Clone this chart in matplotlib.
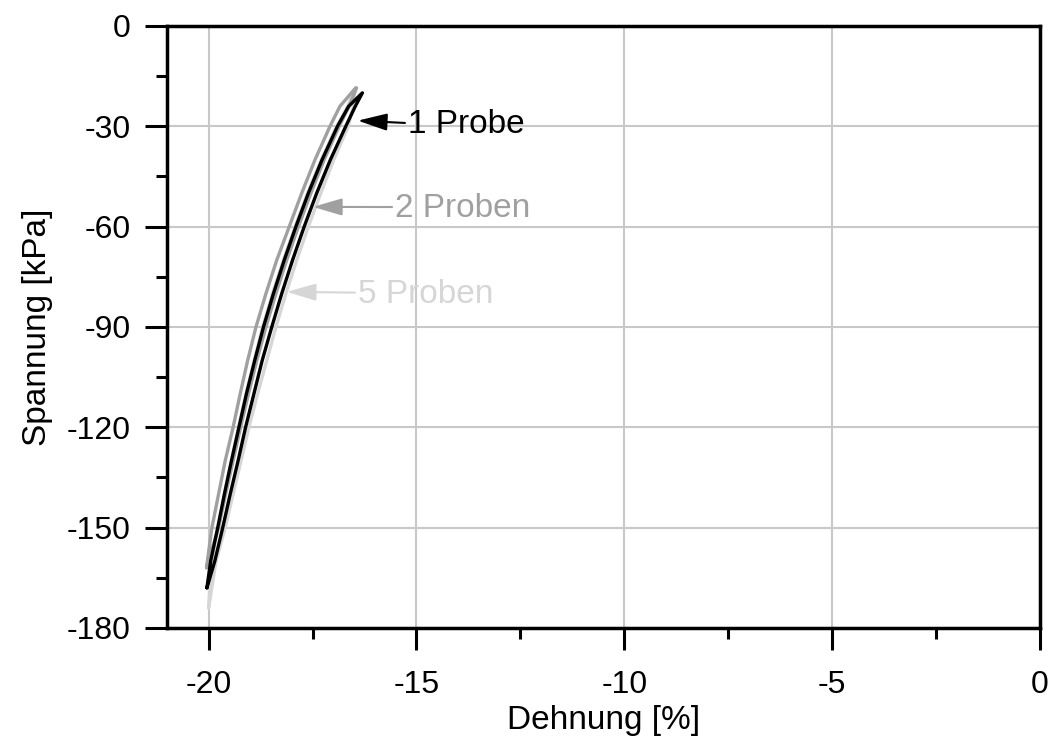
import numpy as np
import matplotlib
matplotlib.use('Agg')
import matplotlib.pyplot as plt
from matplotlib.ticker import MultipleLocator

# stress levels [kPa] and strain [%] of the two branches of each loop
stress_1 = [-168, -160, -150, -140, -130, -120, -110, -100, -90, -80, -70,
            -60, -50, -40, -30, -24, -20]
strain_1_up = [-20.04, -19.85, -19.66, -19.48, -19.29, -19.11, -18.91, -18.71,
               -18.48, -18.24, -17.98, -17.70, -17.40, -17.07, -16.70, -16.47, -16.30]
strain_1_down = [-20.04, -19.95, -19.78, -19.62, -19.45, -19.27, -19.09, -18.89,
                 -18.68, -18.44, -18.18, -17.90, -17.60, -17.27, -16.90, -16.63, -16.30]

stress_2 = [-162, -150, -140, -130, -120, -110, -100, -90, -80, -70, -60,
            -50, -40, -30, -24, -18.5]
strain_2_up = [-20.05, -19.76, -19.59, -19.41, -19.23, -19.04, -18.84, -18.62,
               -18.38, -18.12, -17.84, -17.54, -17.22, -16.86, -16.62, -16.44]
strain_2_down = [-20.05, -19.92, -19.76, -19.60, -19.41, -19.24, -19.06, -18.86,
                 -18.62, -18.36, -18.06, -17.76, -17.44, -17.08, -16.84, -16.46]

stress_5 = [-174, -160, -150, -140, -130, -120, -110, -100, -90, -80, -70,
            -60, -50, -40, -30, -24, -19]
strain_5_up = [-20.00, -19.82, -19.60, -19.41, -19.22, -19.03, -18.82, -18.60,
               -18.38, -18.14, -17.88, -17.60, -17.30, -16.99, -16.64, -16.52, -16.48]
strain_5_down = [-20.00, -19.93, -19.77, -19.62, -19.45, -19.28, -19.10, -18.90,
                 -18.70, -18.46, -18.20, -17.92, -17.62, -17.29, -16.92, -16.65, -16.50]

labels = ['1 Probe', '2 Proben', '5 Proben']
colors = ['#000000', '#a0a0a0', '#d6d6d6']
# arrow tip (strain, stress) and text position for each label
arrow_tips = [(-16.41, -28.3), (-17.49, -54.1), (-18.12, -79.5)]
text_pos = [(-15.21, -29.5), (-15.52, -54.6), (-16.41, -80.2)]

plt.rcParams['font.family'] = ['Liberation Sans', 'DejaVu Sans']
plt.rcParams['axes.unicode_minus'] = False


def loop(strain_up, strain_down, stress):
    x = np.concatenate([strain_up, strain_down[::-1]])
    y = np.concatenate([stress, stress[::-1]])
    return x, y


fig = plt.figure(figsize=(10.53, 7.40), dpi=100)
ax = fig.add_axes([0.1586, 0.1514, 0.8291, 0.8135])

series = [
    (strain_5_up, strain_5_down, stress_5, colors[2]),
    (strain_2_up, strain_2_down, stress_2, colors[1]),
    (strain_1_up, strain_1_down, stress_1, colors[0]),
]
for up, down, stress, color in series:
    x, y = loop(up, down, stress)
    ax.plot(x, y, color=color, lw=2.4, solid_joinstyle='round',
            solid_capstyle='round', zorder=3)

for label, color, tip, pos in zip(labels, colors, arrow_tips, text_pos):
    ax.annotate(label, xy=tip, xytext=pos, color=color, fontsize=24,
                ha='left', va='center',
                arrowprops=dict(arrowstyle='-|>,head_length=0.75,head_width=0.22',
                                color=color, lw=1.5, shrinkA=0, shrinkB=0,
                                relpos=(0, 0.55)),
                zorder=4)

ax.set_xlim(-21, 0)
ax.set_ylim(-180, 0)
ax.xaxis.set_major_locator(MultipleLocator(5))
ax.xaxis.set_minor_locator(MultipleLocator(2.5))
ax.yaxis.set_major_locator(MultipleLocator(30))
ax.yaxis.set_minor_locator(MultipleLocator(15))

ax.grid(True, which='major', color='#c8c8c8', lw=1.5, zorder=0)
ax.set_axisbelow(True)
for side in ax.spines.values():
    side.set_linewidth(2.5)

ax.tick_params(which='major', direction='out', length=16, width=2.2,
               labelsize=23)
ax.tick_params(which='minor', direction='out', length=8, width=2.2)
ax.tick_params(axis='x', which='major', pad=14)
ax.tick_params(axis='y', which='major', pad=10)

ax.set_xlabel('Dehnung [%]', fontsize=24, labelpad=4)
ax.set_ylabel('Spannung [kPa]', fontsize=24, labelpad=10)

fig.savefig('out.png', dpi=100)
